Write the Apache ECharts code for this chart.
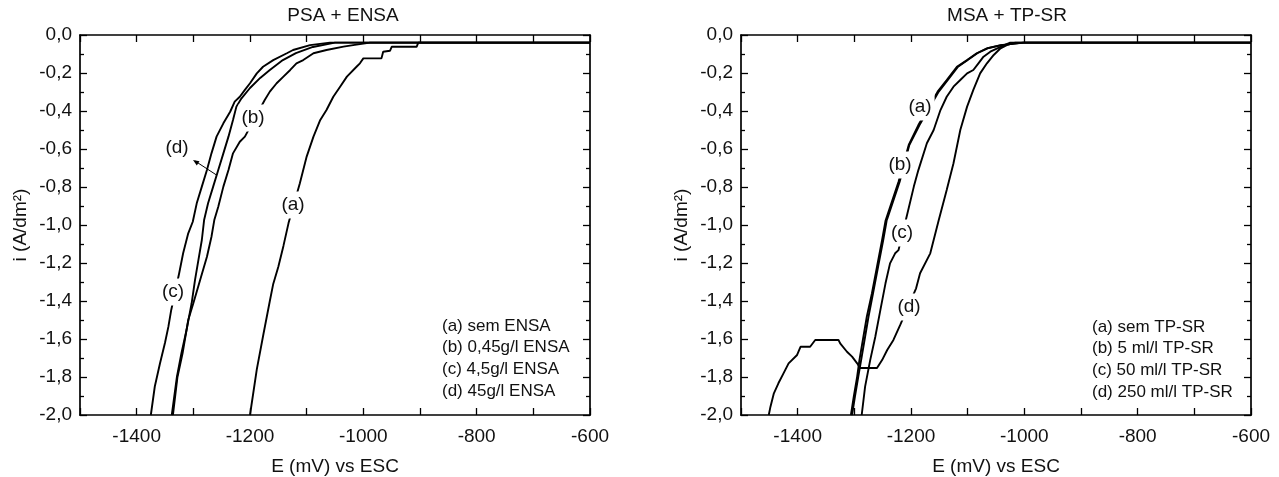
<!DOCTYPE html>
<html>
<head>
<meta charset="utf-8">
<script src="https://cdn.jsdelivr.net/npm/echarts@6/dist/echarts.min.js"></script>
<style>
  html, body { margin: 0; padding: 0; background: #fff; }
  #chart { width: 1279px; height: 477px; }
</style>
</head>
<body>
<div id="chart"></div>
<script>
// Axis ranges and ticks (potential in mV vs ESC, current density in A/dm²)
const xMin = -1500, xMax = -600, xStep = 100;
const yMin = -2, yMax = 0, yStep = 0.2;
const xLabelValues = [-1400, -1200, -1000, -800, -600];

const panelTitles = ['PSA + ENSA', 'MSA + TP-SR'];
const xName = 'E (mV) vs ESC';
const yName = 'i (A/dm²)';

const psaLegend = ['(a) sem ENSA', '(b) 0,45g/l ENSA', '(c) 4,5g/l ENSA', '(d) 45g/l ENSA'];
const msaLegend = ['(a) sem TP-SR', '(b) 5 ml/l TP-SR', '(c) 50 ml/l TP-SR', '(d) 250 ml/l TP-SR'];

// PSA bath, ENSA additions: [E (mV), i (A/dm²)]
const psaA = [[-1200,-2.0],[-1188,-1.76],[-1176,-1.57],[-1165,-1.40],[-1159,-1.31],[-1150,-1.22],[-1141,-1.11],[-1132,-0.99],[-1112,-0.78],[-1100,-0.64],[-1088,-0.535],[-1076,-0.447],[-1065,-0.395],[-1053,-0.325],[-1041,-0.272],[-1029,-0.219],[-1012,-0.167],[-1006,-0.149],[-1000,-0.123],[-968,-0.123],[-965,-0.088],[-953,-0.083],[-950,-0.062],[-906,-0.062],[-903,-0.04],[-600,-0.04]];
const psaB = [[-1336,-2.0],[-1328,-1.80],[-1319,-1.675],[-1309,-1.5],[-1300,-1.412],[-1288,-1.289],[-1276,-1.167],[-1268,-1.062],[-1263,-0.974],[-1256,-0.904],[-1247,-0.798],[-1238,-0.711],[-1230,-0.623],[-1218,-0.562],[-1209,-0.535],[-1174,-0.342],[-1165,-0.298],[-1153,-0.254],[-1141,-0.219],[-1129,-0.184],[-1118,-0.149],[-1106,-0.132],[-1088,-0.096],[-1065,-0.079],[-1035,-0.061],[-1018,-0.053],[-988,-0.04],[-600,-0.04]];
const psaC = [[-1375,-2.0],[-1368,-1.85],[-1359,-1.73],[-1350,-1.62],[-1344,-1.535],[-1339,-1.447],[-1325,-1.254],[-1318,-1.149],[-1309,-1.044],[-1301,-0.983],[-1294,-0.886],[-1285,-0.798],[-1276,-0.711],[-1268,-0.623],[-1259,-0.535],[-1247,-0.465],[-1235,-0.404],[-1227,-0.351],[-1218,-0.325],[-1209,-0.289],[-1200,-0.254],[-1188,-0.202],[-1177,-0.167],[-1159,-0.132],[-1135,-0.096],[-1124,-0.079],[-1094,-0.053],[-1059,-0.04],[-600,-0.04]];
const psaD = [[-1338,-2.0],[-1329,-1.80],[-1321,-1.675],[-1312,-1.553],[-1303,-1.412],[-1297,-1.289],[-1291,-1.184],[-1285,-1.079],[-1281,-0.974],[-1274,-0.886],[-1265,-0.798],[-1256,-0.711],[-1247,-0.623],[-1238,-0.535],[-1230,-0.447],[-1224,-0.377],[-1215,-0.333],[-1200,-0.279],[-1182,-0.226],[-1165,-0.184],[-1142,-0.132],[-1119,-0.095],[-1089,-0.063],[-1050,-0.04],[-600,-0.04]];

// MSA bath, TP-SR additions: [E (mV), i (A/dm²)]
const msaA = [[-1306,-2.0],[-1301,-1.904],[-1295,-1.798],[-1291,-1.711],[-1284,-1.588],[-1278,-1.483],[-1269,-1.36],[-1260,-1.219],[-1251,-1.079],[-1245,-0.978],[-1222,-0.772],[-1204,-0.579],[-1187,-0.474],[-1153,-0.298],[-1137,-0.237],[-1119,-0.167],[-1101,-0.132],[-1084,-0.096],[-1066,-0.07],[-1042,-0.053],[-1002,-0.04],[-600,-0.04]];
const msaB = [[-1304,-2.0],[-1299,-1.904],[-1293,-1.798],[-1288,-1.711],[-1281,-1.588],[-1275,-1.483],[-1267,-1.36],[-1258,-1.219],[-1249,-1.079],[-1243,-0.978],[-1220,-0.772],[-1203,-0.579],[-1185,-0.474],[-1151,-0.298],[-1135,-0.237],[-1117,-0.167],[-1100,-0.132],[-1083,-0.096],[-1065,-0.07],[-1040,-0.053],[-1000,-0.04],[-600,-0.04]];
const msaC = [[-1287,-2.0],[-1281,-1.851],[-1272,-1.711],[-1263,-1.588],[-1254,-1.447],[-1245,-1.307],[-1237,-1.202],[-1228,-1.149],[-1222,-1.132],[-1207,-0.947],[-1195,-0.798],[-1187,-0.711],[-1172,-0.57],[-1160,-0.5],[-1148,-0.395],[-1137,-0.325],[-1125,-0.272],[-1113,-0.237],[-1101,-0.202],[-1090,-0.184],[-1081,-0.149],[-1072,-0.114],[-1060,-0.088],[-1042,-0.062],[-1025,-0.04],[-600,-0.04]];
const msaD = [[-1451,-2.0],[-1448,-1.956],[-1442,-1.886],[-1434,-1.833],[-1425,-1.781],[-1416,-1.728],[-1401,-1.684],[-1395,-1.641],[-1378,-1.641],[-1369,-1.605],[-1328,-1.605],[-1325,-1.623],[-1313,-1.667],[-1304,-1.693],[-1295,-1.728],[-1290,-1.753],[-1260,-1.753],[-1251,-1.711],[-1242,-1.658],[-1231,-1.605],[-1219,-1.526],[-1191,-1.333],[-1184,-1.254],[-1166,-1.149],[-1151,-0.974],[-1137,-0.816],[-1125,-0.675],[-1113,-0.5],[-1101,-0.377],[-1090,-0.289],[-1078,-0.202],[-1066,-0.149],[-1054,-0.105],[-1042,-0.07],[-1031,-0.053],[-1016,-0.04],[-600,-0.04]];

const FONT = '"Liberation Sans", Arial, Helvetica, sans-serif';
const INK = '#111';
const axisLineStyle = { color: '#000', width: 1.7 };

// fixed plot boxes; axis labels and names sit outside them
const grids = [
  { left: 80, top: 35, width: 510, height: 380, containLabel: false, outerBoundsMode: 'none' },
  { left: 741, top: 35, width: 510, height: 380, containLabel: false, outerBoundsMode: 'none' }
];

function xAxisFor(gridIndex, position) {
  const main = position === 'bottom';
  return {
    type: 'value', gridIndex, position,
    min: xMin, max: xMax, interval: xStep,
    axisLine: { show: true, onZero: false, lineStyle: axisLineStyle },
    axisTick: { show: true, inside: true, length: 7, lineStyle: { color: '#000', width: 1.3 } },
    axisLabel: {
      show: main, margin: 12, showMaxLabel: true, showMinLabel: true,
      color: INK, fontFamily: FONT, fontSize: 19,
      formatter: v => (xLabelValues.indexOf(v) >= 0 ? String(v) : '')
    },
    splitLine: { show: false },
    name: main ? xName : '',
    nameLocation: 'middle', nameGap: 42,
    nameTextStyle: { color: INK, fontFamily: FONT, fontSize: 19 }
  };
}

function yAxisFor(gridIndex, position) {
  const main = position === 'left';
  return {
    type: 'value', gridIndex, position,
    min: yMin, max: yMax, interval: yStep,
    axisLine: { show: true, onZero: false, lineStyle: axisLineStyle },
    axisTick: { show: true, inside: true, length: 7, lineStyle: { color: '#000', width: 1.3 } },
    minorTick: { show: true, splitNumber: 2, length: 4, lineStyle: { color: '#000', width: 1.3 } },
    axisLabel: {
      show: main, margin: 8, color: INK, fontFamily: FONT, fontSize: 19,
      formatter: v => (Math.abs(v) < 1e-9 ? 0 : v).toFixed(1).replace('.', ',')
    },
    splitLine: { show: false },
    name: main ? yName : '',
    nameLocation: 'middle', nameGap: 50,
    nameTextStyle: { color: INK, fontFamily: FONT, fontSize: 19 }
  };
}

function curve(data, panel) {
  return {
    type: 'line', data,
    xAxisIndex: panel * 2, yAxisIndex: panel * 2,
    showSymbol: false, symbol: 'none', smooth: false,
    lineStyle: { color: '#000', width: 1.9 },
    z: 2, animation: false
  };
}

function text(x, y, str, opts) {
  const o = opts || {};
  return {
    type: 'text', x, y, z: 100,
    style: {
      text: str, font: (o.size || 19) + 'px ' + FONT, fill: INK,
      align: o.align || 'center', textAlign: o.align || 'center',
      verticalAlign: 'middle', textVerticalAlign: 'middle',
      backgroundColor: o.bg || null, padding: o.bg ? [4, 3] : 0
    }
  };
}

const graphics = [
  text(343, 16, panelTitles[0]),
  text(1007, 16, panelTitles[1])
];
psaLegend.forEach((s, k) => graphics.push(text(442, 326 + k * 21.8, s, { size: 17, align: 'left' })));
msaLegend.forEach((s, k) => graphics.push(text(1092, 327 + k * 21.7, s, { size: 17, align: 'left' })));

// curve tags, left panel
graphics.push(text(177, 148, '(d)', { bg: '#fff' }));
graphics.push(text(253, 118, '(b)', { bg: '#fff' }));
graphics.push(text(293, 205, '(a)', { bg: '#fff' }));
graphics.push(text(173, 292, '(c)', { bg: '#fff' }));
// curve tags, right panel
graphics.push(text(920, 107, '(a)', { bg: '#fff' }));
graphics.push(text(900, 165, '(b)', { bg: '#fff' }));
graphics.push(text(902, 233, '(c)', { bg: '#fff' }));
graphics.push(text(909, 307, '(d)', { bg: '#fff' }));

// pointer from the (d) tag to its curve
graphics.push({
  type: 'line', z: 100,
  shape: { x1: 216.5, y1: 175, x2: 195, y2: 161 },
  style: { stroke: '#000', lineWidth: 1 }
});
graphics.push({
  type: 'polygon', z: 100,
  shape: { points: [[193, 160], [199.5, 161.3], [196.8, 165.4]] },
  style: { fill: '#000' }
});

const chart = echarts.init(document.getElementById('chart'), null, { renderer: 'canvas' });
chart.setOption({
  animation: false,
  backgroundColor: '#fff',
  grid: grids,
  xAxis: [xAxisFor(0, 'bottom'), xAxisFor(0, 'top'), xAxisFor(1, 'bottom'), xAxisFor(1, 'top')],
  yAxis: [yAxisFor(0, 'left'), yAxisFor(0, 'right'), yAxisFor(1, 'left'), yAxisFor(1, 'right')],
  series: [
    curve(psaA, 0), curve(psaB, 0), curve(psaC, 0), curve(psaD, 0),
    curve(msaA, 1), curve(msaB, 1), curve(msaC, 1), curve(msaD, 1)
  ],
  graphic: graphics
});
</script>
</body>
</html>
